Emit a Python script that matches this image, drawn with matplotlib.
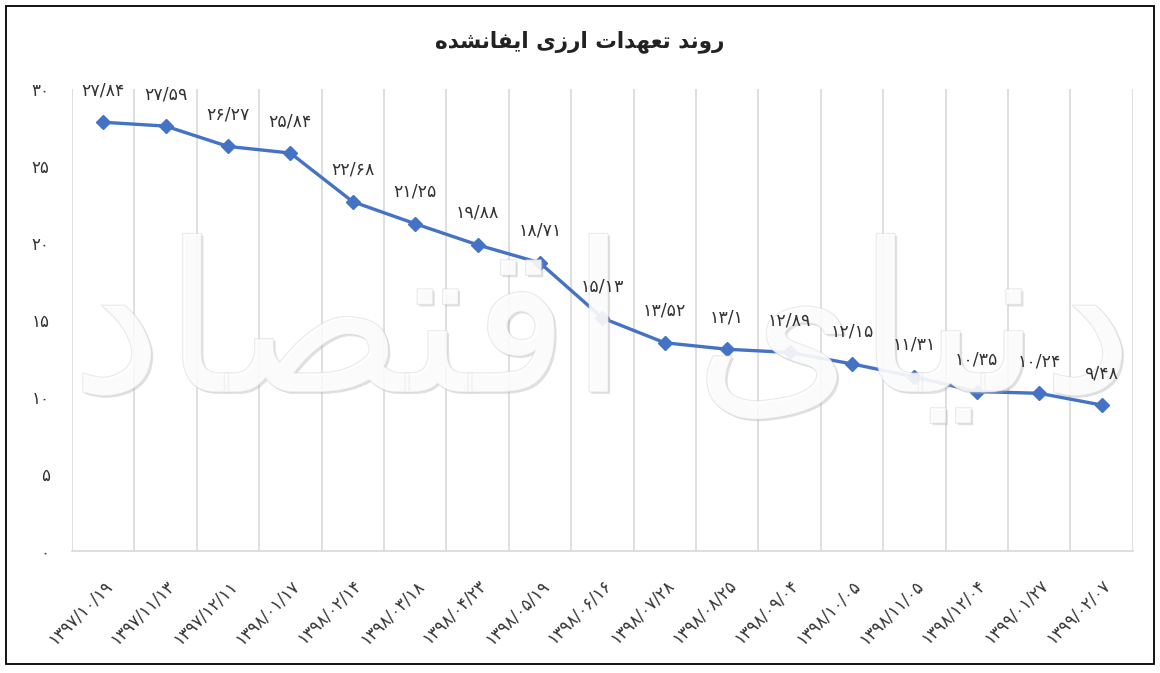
import matplotlib
matplotlib.use('Agg')
import matplotlib.pyplot as plt
import matplotlib.patheffects as pe
from matplotlib.patches import Rectangle

plt.rcParams['font.family'] = ['DejaVu Sans']

# data
title = 'روند تعهدات ارزی ایفانشده'
watermark = 'دنیای اقتصاد'
dates = ['1397/10/19', '1397/11/13', '1397/12/11', '1398/01/17', '1398/02/14',
         '1398/03/18', '1398/04/23', '1398/05/19', '1398/06/16', '1398/07/28',
         '1398/08/25', '1398/09/04', '1398/10/05', '1398/11/05', '1398/12/04',
         '1399/01/27', '1399/02/07']
values = [27.84, 27.59, 26.27, 25.84, 22.68, 21.25, 19.88, 18.71, 15.13,
          13.52, 13.1, 12.89, 12.15, 11.31, 10.35, 10.24, 9.48]
yticks = [0, 5, 10, 15, 20, 25, 30]

LINE = '#4472C4'
GRID = '#d9d9d9'
TXT = '#333333'

FA_DIGITS = str.maketrans('0123456789.', '۰۱۲۳۴۵۶۷۸۹/')


def fa(s):
    return str(s).translate(FA_DIGITS)


# arabic presentation forms: isolated, final, initial, medial
FORMS = {
    'ا': ('\uFE8D', '\uFE8E', None, None),
    'د': ('\uFEA9', '\uFEAA', None, None),
    'ر': ('\uFEAD', '\uFEAE', None, None),
    'ز': ('\uFEAF', '\uFEB0', None, None),
    'و': ('\uFEED', '\uFEEE', None, None),
    'ت': ('\uFE95', '\uFE96', '\uFE97', '\uFE98'),
    'ن': ('\uFEE5', '\uFEE6', '\uFEE7', '\uFEE8'),
    'ع': ('\uFEC9', '\uFECA', '\uFECB', '\uFECC'),
    'ه': ('\uFEE9', '\uFEEA', '\uFEEB', '\uFEEC'),
    'ی': ('\uFBFC', '\uFBFD', '\uFBFE', '\uFBFF'),
    'ف': ('\uFED1', '\uFED2', '\uFED3', '\uFED4'),
    'ش': ('\uFEB5', '\uFEB6', '\uFEB7', '\uFEB8'),
    'ق': ('\uFED5', '\uFED6', '\uFED7', '\uFED8'),
    'ص': ('\uFEB9', '\uFEBA', '\uFEBB', '\uFEBC'),
}


def shape(text):
    out = []
    for i, c in enumerate(text):
        if c not in FORMS:
            out.append(c)
            continue
        prev = text[i - 1] if i > 0 else ''
        nxt = text[i + 1] if i + 1 < len(text) else ''
        join_prev = prev in FORMS and FORMS[prev][2] is not None
        join_next = nxt in FORMS and FORMS[c][2] is not None
        iso, fin, ini, med = FORMS[c]
        if join_prev and join_next:
            out.append(med)
        elif join_prev:
            out.append(fin)
        elif join_next:
            out.append(ini)
        else:
            out.append(iso)
    return ''.join(out)[::-1]


fig = plt.figure(figsize=(11.6, 6.73), dpi=100)
ax = fig.add_axes([0.062, 0.1813, 0.9145, 0.6865])

x = list(range(len(values)))
ax.plot(x, values, color=LINE, lw=2.4, marker='D', markersize=7, zorder=3)

# faint logo watermark over the plot
ax.text(0.5, 0.47, shape(watermark), transform=ax.transAxes, ha='center', va='center',
        fontsize=150, color='white', alpha=0.5, zorder=4,
        path_effects=[pe.withSimplePatchShadow(offset=(1.5, -1.5), shadow_rgbFace='#aaaaaa', alpha=0.35),
                      pe.Stroke(linewidth=1.0, foreground='#d0d0d0'), pe.Normal()])

for xi, v in zip(x, values):
    ax.annotate(fa(f'{v:g}'), (xi, v), xytext=(0, 23), textcoords='offset points',
                ha='center', va='center', fontsize=12.5, color=TXT, zorder=5)

ax.set_xlim(-0.5, len(values) - 0.5)
ax.set_ylim(0, 30)
ax.set_yticks(yticks)
ax.set_yticklabels([fa(t) for t in yticks], fontsize=12, color=TXT)
ax.set_xticks(x)
ax.set_xticklabels([fa(d) for d in dates], rotation=45, ha='right', va='top',
                   rotation_mode='anchor', fontsize=12, color=TXT)
ax.set_xticks([k - 0.5 for k in range(len(values) + 1)], minor=True)
ax.grid(True, which='minor', axis='x', color=GRID, lw=1.2)
ax.tick_params(axis='both', which='both', length=0)
ax.tick_params(axis='y', pad=16)
ax.tick_params(axis='x', pad=18)

for side in ['top', 'right', 'left']:
    ax.spines[side].set_visible(False)
ax.spines['bottom'].set_color(GRID)
ax.spines['bottom'].set_linewidth(1.2)

fig.text(0.5, 0.938, shape(title), ha='center', va='center', fontsize=15.5,
         fontweight='bold', color='#222222')

fig.patches.append(Rectangle((0.005, 0.0134), 0.9897, 0.978, transform=fig.transFigure,
                             fill=False, edgecolor='black', lw=1.3))

fig.savefig('out.png', dpi=100)
